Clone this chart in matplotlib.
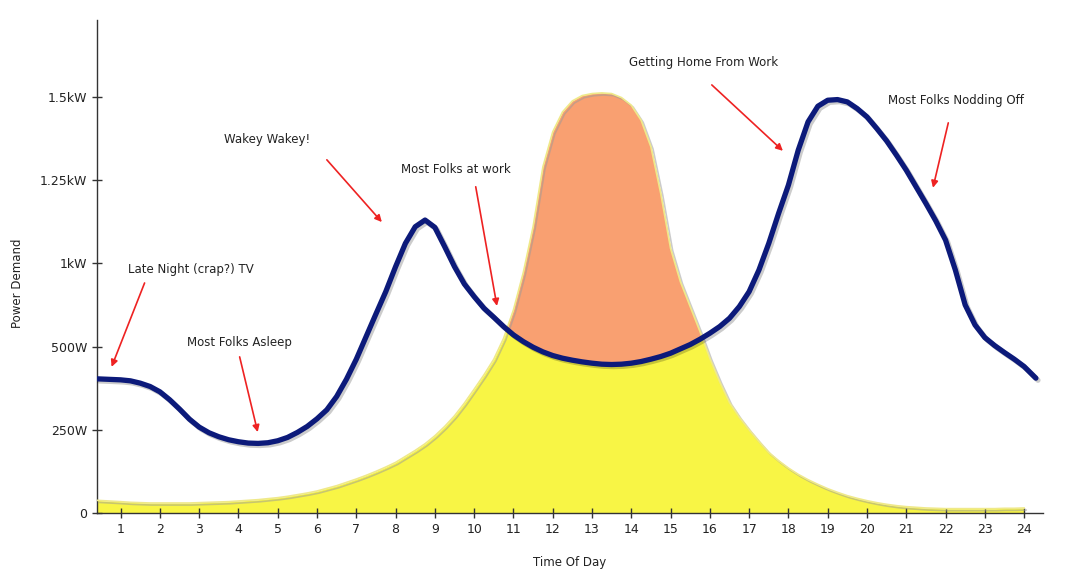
import matplotlib
matplotlib.use('Agg')
import matplotlib.pyplot as plt
import matplotlib.patheffects as pe
import numpy as np

# hora do dia (eixo x), de quarto em quarto de hora
hours = [0.4] + list(np.arange(1, 24.01, 0.25)) + [24.3]

# demanda (linha azul)
demand = [403,
          400, 397, 390, 380,
          364, 340, 312, 282,
          258, 241, 229, 220,
          214, 210, 209, 211,
          217, 227, 242, 260,
          283, 310, 350, 402,
          462, 530, 598, 665,
          740, 810, 860, 880,
          858, 800, 740, 688,
          650, 615, 588, 560,
          535, 515, 498, 484,
          473, 465, 459, 454,
          450, 447, 446, 447,
          450, 455, 462, 470,
          480, 493, 506, 522,
          540, 560, 585, 620,
          665, 730, 810, 900,
          985, 1090, 1175, 1222,
          1240, 1242, 1235, 1215,
          1190, 1155, 1118, 1075,
          1030, 980, 930, 878,
          820, 730, 625, 565,
          527, 503, 482, 462,
          440, 405]

# geracao solar (area amarela)
solar = [38,
         34, 32, 31, 30,
         30, 30, 30, 30,
         31, 32, 33, 34,
         36, 38, 40, 43,
         46, 50, 55, 60,
         66, 74, 82, 92,
         102, 113, 125, 138,
         152, 170, 188, 208,
         232, 260, 292, 330,
         372, 415, 462, 525,
         610, 722, 860, 1040,
         1145, 1205, 1238, 1254,
         1260, 1262, 1260, 1248,
         1225, 1180, 1100, 960,
         795, 695, 620, 545,
         465, 395, 332, 288,
         250, 215, 182, 157,
         135, 116, 100, 86,
         73, 62, 52, 44,
         37, 31, 26, 22,
         19, 17, 15, 14,
         13, 13, 13, 13,
         13, 13, 14, 14,
         15, np.nan]

x_ticks = list(range(1, 25))
y_ticks = [0, 250, 500, 750, 1000, 1250]
y_labels = ['0', '250W', '500W', '1kW', '1.25kW', '1.5kW']

notes = [
    ('Late Night (crap?) TV', (1.18, 730), (1.61, 691), (0.77, 439)),
    ('Most Folks Asleep', (2.68, 511), (4.03, 469), (4.49, 243)),
    ('Wakey Wakey!', (3.63, 1121), (6.25, 1061), (7.65, 874)),
    ('Most Folks at work', (8.13, 1031), (10.04, 980), (10.58, 622)),
    ('Getting Home From Work', (13.94, 1352), (16.05, 1286), (17.86, 1088)),
    ('Most Folks Nodding Off', (20.54, 1238), (22.07, 1172), (21.68, 977)),
]

t = np.array(hours)
d = np.array(demand, dtype=float)
s = np.array(solar, dtype=float)

fig = plt.figure(figsize=(10.88, 5.82), dpi=100)
ax = fig.add_axes([0.0892, 0.1186, 0.8694, 0.847])

ax.fill_between(t, 0, s, color='#f8f545', lw=0, zorder=1)
ax.fill_between(t, d, s, where=s > d, interpolate=True, color='#f9a071', lw=0, zorder=2)
ax.plot(t, s, color='#efe98a', lw=1.2, zorder=3, solid_joinstyle='round',
        path_effects=[pe.SimpleLineShadow(offset=(1.5, -1.5), shadow_color='#999999', alpha=0.5),
                      pe.Normal()])
ax.plot(t, d, color='#0c1a7a', lw=3.8, solid_capstyle='round', solid_joinstyle='round', zorder=4,
        path_effects=[pe.SimpleLineShadow(offset=(1.5, -1.5), alpha=0.2), pe.Normal()])

for txt, pos, tail, tip in notes:
    ax.text(pos[0], pos[1], txt, fontsize=8.5, color='#222222', va='center', ha='left')
    ax.annotate('', xy=tip, xytext=tail,
                arrowprops=dict(arrowstyle='-|>', color='#ee2222', lw=1.2,
                                mutation_scale=10, shrinkA=0, shrinkB=0))

ax.set_xlim(0.4, 24.48)
ax.set_ylim(0, 1481)
ax.set_xticks(x_ticks)
ax.set_yticks(y_ticks)
ax.set_yticklabels(y_labels)
ax.tick_params(direction='inout', length=7, width=1, color='#333333', labelsize=9,
               labelcolor='#222222')
for side in ['top', 'right']:
    ax.spines[side].set_visible(False)
for side in ['left', 'bottom']:
    ax.spines[side].set_color('#333333')
    ax.spines[side].set_linewidth(1)

fig.text(0.0165, 0.514, 'Power Demand', rotation=90, fontsize=8.5, va='center', ha='center',
         color='#222222')
fig.text(0.524, 0.033, 'Time Of Day', fontsize=8.5, va='center', ha='center', color='#222222')

fig.savefig('out.png', dpi=100)
